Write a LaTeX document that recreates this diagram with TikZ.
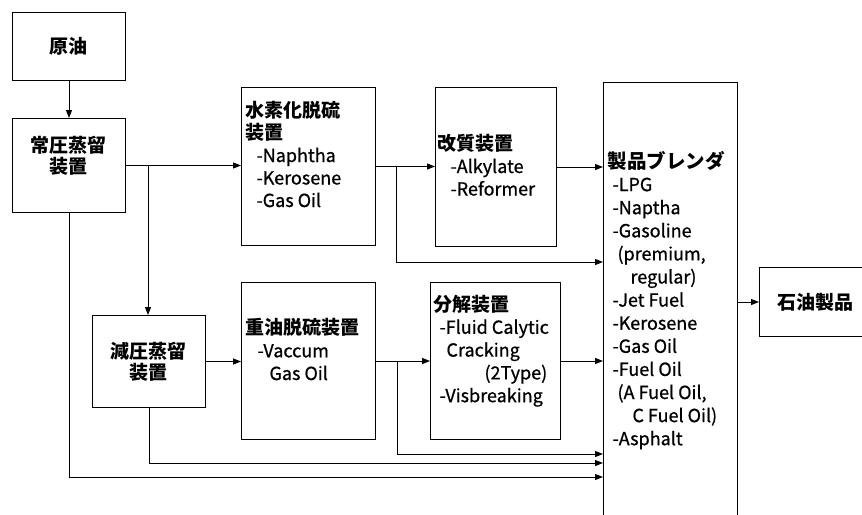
\documentclass[tikz,border=0pt]{standalone}
\usepackage{fontspec}
\setmainfont{Noto Sans CJK JP}
\newfontfamily\latfont{Noto Sans CJK JP}[FakeBold=0.8]
\usetikzlibrary{arrows.meta}
\begin{document}
\begin{tikzpicture}[x=1pt,y=-1pt,line width=1pt,
  box/.style={draw,rectangle,inner sep=0pt,anchor=north west},
  arr/.style={-{Triangle[length=8pt,width=6pt]}},
  jtitle/.style={inner sep=0pt,align=center,font=\fontsize{19}{21}\selectfont\bfseries},
  blist/.style={inner sep=0pt,anchor=base west,align=left},
  lat/.style={font=\latfont\fontsize{18}{22.5}\selectfont}]
\clip (0,0) rectangle (862,514);
% boxes
\node[box,minimum width=113pt,minimum height=68pt] (crude) at (12,12) {};
\node[box,minimum width=113pt,minimum height=94pt] (atm) at (12,118) {};
\node[box,minimum width=113pt,minimum height=92pt] (vac) at (92,315) {};
\node[box,minimum width=134pt,minimum height=158pt] (hds) at (241,87) {};
\node[box,minimum width=121pt,minimum height=159pt] (ref) at (435,87) {};
\node[box,minimum width=134pt,minimum height=157pt] (rds) at (241,282) {};
\node[box,minimum width=130pt,minimum height=157pt] (crk) at (430,282) {};
\node[box,minimum width=134pt,minimum height=445pt] (blend) at (603,82) {};
\node[box,minimum width=110pt,minimum height=69pt] (prod) at (759,267) {};
% texts
\node[jtitle] (tcrude) at (68.5,46) {原油};
\node[jtitle] (tatm) at (68.5,155.5) {常圧蒸留\\装置};
\node[jtitle] (tvac) at (148.5,361.5) {減圧蒸留\\装置};
\node[jtitle] (tprod) at (815,302) {石油製品};
\node[blist,lat] (thds) at (245,207) {{\rmfamily\fontsize{19}{22.5}\selectfont\bfseries 水素化脱硫}\\{\rmfamily\fontsize{19}{22.5}\selectfont\bfseries 装置}\\\hspace*{11pt}-Naphtha\\\hspace*{11pt}-Kerosene\\\hspace*{11pt}-Gas Oil};
\node[blist,lat] (tref) at (437,195.5) {{\rmfamily\fontsize{19}{22.5}\selectfont\bfseries 改質装置}\\\hspace*{13pt}-Alkylate\\\hspace*{13pt}-Reformer};
\node[blist,font=\latfont\fontsize{18}{22.7}\selectfont] (trds) at (245,380) {{\rmfamily\fontsize{19}{22.7}\selectfont\bfseries 重油脱硫装置}\\\hspace*{12pt}-Vaccum\\\hspace*{24pt}Gas Oil};
\node[blist,font=\latfont\fontsize{18}{22.8}\selectfont] (tcrk) at (433,402.2) {{\rmfamily\fontsize{19}{22.8}\selectfont\bfseries 分解装置}\\\hspace*{6pt}-Fluid Calytic\\\hspace*{13pt}Cracking\\\hspace*{51pt}(2Type)\\\hspace*{6pt}-Visbreaking};
\node[blist,font=\latfont\fontsize{18}{23.1}\selectfont] (tblend) at (607,445.2) {{\rmfamily\fontsize{19.5}{23.1}\selectfont\bfseries 製品ブレンダ}\\\hspace*{5pt}-LPG\\\hspace*{5pt}-Naptha\\\hspace*{5pt}-Gasoline\\\hspace*{10pt}(premium,\\\hspace*{23pt}regular)\\\hspace*{5pt}-Jet Fuel\\\hspace*{5pt}-Kerosene\\\hspace*{5pt}-Gas Oil\\\hspace*{5pt}-Fuel Oil\\\hspace*{10pt}(A Fuel Oil,\\\hspace*{25pt}C Fuel Oil)\\\hspace*{5pt}-Asphalt};
% junction coordinates
\coordinate (j1) at (148,165);
\coordinate (j2) at (396,166);
\coordinate (j3) at (397,361);
\coordinate (y262) at (0,262);
\coordinate (y454) at (0,454);
\coordinate (y463) at (0,463);
\coordinate (y477) at (0,477);
% connectors
\draw[arr] (crude.south) -- (atm.north);
\draw[arr] (atm.east) -- (atm.east -| hds.west);
\draw[arr] (j1) -- (j1 |- vac.north);
\draw[arr] (atm.south) |- (y477 -| blend.west);
\draw[arr] (hds.east) -- (hds.east -| ref.west);
\draw[arr] (j2) |- (y262 -| blend.west);
\draw[arr] (ref.east) -- (ref.east -| blend.west);
\draw[arr] (vac.east) -- (vac.east -| rds.west);
\draw[arr] (rds.east) -- (rds.east -| crk.west);
\draw[arr] (j3) |- (y454 -| blend.west);
\draw[arr] (crk.east) -- (crk.east -| blend.west);
\draw[arr] (vac.south) |- (y463 -| blend.west);
\draw[arr] (prod.west -| blend.east) -- (prod.west);
\end{tikzpicture}
\end{document}
